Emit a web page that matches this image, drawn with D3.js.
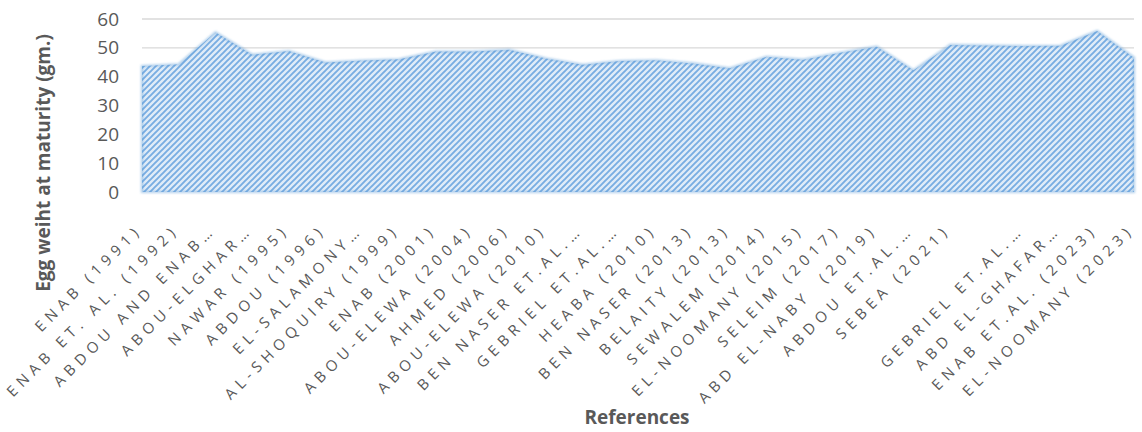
<!DOCTYPE html>
<html>
<head>
<meta charset="utf-8">
<script src="https://cdn.jsdelivr.net/npm/d3@7"></script>
<style>
  html, body { margin: 0; padding: 0; background: #ffffff; }
  svg { display: block; }
  .xlab { white-space: pre; }
</style>
</head>
<body>
<svg id="chart" width="1142" height="432"></svg>
<script>
// Egg weight at maturity reported by each reference
const references = [
  "ENAB (1991)", "ENAB ET. AL. (1992)", "ABDOU AND ENAB…", "ABOU-ELGHAR…",
  "NAWAR (1995)", "ABDOU (1996)", "EL-SALAMONY…", "AL-SHOQUIRY (1999)",
  "ENAB (2001)", "ABOU-ELEWA (2004)", "AHMED (2006)", "ABOU-ELEWA (2010)",
  "BEN NASER ET.AL.…", "GEBRIEL ET.AL.…", "HEABA (2010)", "BEN NASER (2013)",
  "BELAITY (2013)", "SEWALEM (2014)", "EL-NOOMANY (2015)", "SELEIM (2017)",
  "ABD EL-NABY  (2019)", "ABDOU ET.AL.…", "SEBEA (2021)", "",
  "GEBRIEL ET.AL.…", "ABD EL-GHAFAR…", "ENAB ET.AL. (2023)", "EL-NOOMANY (2023)"
];
const eggWeight = [
  43.7, 44.3, 55.4, 47.6, 48.9, 44.9, 45.6, 46.0,
  48.7, 48.7, 49.3, 46.3, 44.1, 45.4, 45.7, 44.6,
  42.9, 46.9, 45.9, 48.3, 50.4, 42.2, 51.0, 50.8,
  50.6, 50.7, 55.8, 46.6
];
const yTicks = [0, 10, 20, 30, 40, 50, 60];

const svg = d3.select("#chart");
const plotL = 142, plotR = 1134, plotT = 19, plotB = 192;

const x = d3.scalePoint().domain(d3.range(references.length)).range([plotL, plotR]).padding(0);
const y = d3.scaleLinear().domain([0, 60]).range([plotB, plotT]);

// Hatched fill: pale blue ground with upward diagonal stripes
const defs = svg.append("defs");
const pat = defs.append("pattern")
  .attr("id", "hatch").attr("patternUnits", "userSpaceOnUse")
  .attr("width", 6).attr("height", 6);
pat.append("rect").attr("width", 6).attr("height", 6).attr("fill", "#e0ecf8");
pat.append("path")
  .attr("d", "M-1,7 L7,-1 M-4,4 L4,-4 M2,10 L10,2")
  .attr("stroke", "#78ade2").attr("stroke-width", 1.9);

const blur = defs.append("filter").attr("id", "soft")
  .attr("x", "-5%").attr("y", "-20%").attr("width", "110%").attr("height", "140%");
blur.append("feGaussianBlur").attr("stdDeviation", 1.1);

// Horizontal gridlines
svg.append("g").selectAll("line").data(yTicks.filter(d => d > 0)).join("line")
  .attr("x1", plotL).attr("x2", plotR)
  .attr("y1", d => y(d)).attr("y2", d => y(d))
  .attr("stroke", "#d9d9d9").attr("stroke-width", 1.3);

// Area
const area = d3.area().x((d, i) => x(i)).y0(y(0)).y1(d => y(d));
svg.append("path").datum(eggWeight)
  .attr("d", area)
  .attr("fill", "url(#hatch)");
svg.append("path").datum(eggWeight)
  .attr("d", area)
  .attr("fill", "none")
  .attr("stroke", "#5b9bd5").attr("stroke-opacity", 0.5).attr("stroke-width", 2.2)
  .attr("filter", "url(#soft)");

// Y axis labels
const yAxis = d3.axisLeft(y).tickValues(yTicks).tickSize(0).tickPadding(0);
const gy = svg.append("g").attr("transform", `translate(119,0)`).call(yAxis);
gy.select(".domain").remove();
gy.selectAll("text")
  .attr("font-family", "'Open Sans', sans-serif").attr("font-size", 19)
  .attr("fill", "#595959");

// X category labels, rotated
const xAxis = d3.axisBottom(x).tickFormat(i => references[i]).tickSize(0).tickPadding(0);
const gx = svg.append("g").attr("transform", `translate(0,${plotB})`).call(xAxis);
gx.select(".domain").remove();
gx.selectAll("text")
  .attr("class", "xlab")
  .attr("font-family", "'Open Sans', sans-serif").attr("font-size", 15)
  .attr("letter-spacing", 5.3)
  .attr("fill", "#595959")
  .attr("text-anchor", "end")
  .attr("y", 0).attr("dy", "0.35em")
  .attr("transform", "translate(-3,35) rotate(-45)");

// Axis titles
svg.append("text")
  .attr("transform", "translate(50,163) rotate(-90)")
  .attr("text-anchor", "middle")
  .attr("font-family", "'Open Sans', sans-serif").attr("font-weight", "bold")
  .attr("font-size", 19).attr("fill", "#595959")
  .text("Egg weiht at maturity (gm.)");

svg.append("text")
  .attr("x", 637).attr("y", 424)
  .attr("text-anchor", "middle")
  .attr("font-family", "'Open Sans', sans-serif").attr("font-weight", "bold")
  .attr("font-size", 19).attr("fill", "#595959")
  .text("References");
</script>
</body>
</html>
